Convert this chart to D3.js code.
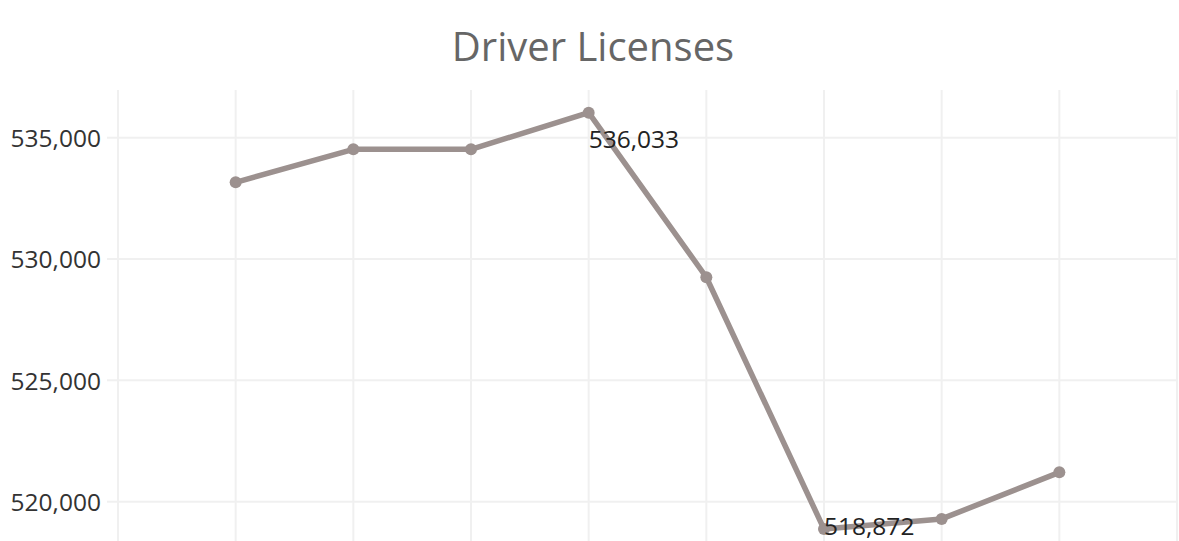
<!DOCTYPE html>
<html>
<head>
<meta charset="utf-8">
<script src="https://cdn.jsdelivr.net/npm/d3@7"></script>
<style>
  html, body { margin: 0; padding: 0; background: #fff; }
  svg { display: block; font-family: "Open Sans", sans-serif; }
</style>
</head>
<body>
<svg id="chart" width="1179" height="541"></svg>
<script>
(function() {
  var title, periods, licenses, yTicks, labelled;
  var svg, width, height, x, y, line, fmt;

  title = 'Driver Licenses';

  // 8 periods, no axis labels shown on the chart
  periods = [1, 2, 3, 4, 5, 6, 7, 8];

  licenses = [533160, 534520, 534520, 536033, 529250, 518872, 519290, 521210];

  yTicks = [520000, 525000, 530000, 535000];

  // only min and max get a mark label
  labelled = [536033, 518872];

  svg = d3.select('#chart');
  width = +svg.attr('width');
  height = +svg.attr('height');

  x = d3.scaleLinear().domain([0, periods.length + 1]).range([118, 1177]);
  y = d3.scaleLinear().domain([518380, 536966]).range([541, 90]);

  fmt = d3.format(',');

  svg.append('text')
    .attr('x', 593)
    .attr('y', 61)
    .attr('text-anchor', 'middle')
    .attr('fill', '#666')
    .style('font-size', '40px')
    .text(title);

  // vertical grid
  svg.append('g').selectAll('line')
    .data(d3.range(0, periods.length + 2))
    .enter().append('line')
    .attr('x1', function(d) { return x(d); })
    .attr('x2', function(d) { return x(d); })
    .attr('y1', 90)
    .attr('y2', height)
    .attr('stroke', '#f0f0f0')
    .attr('stroke-width', 2);

  // horizontal grid
  svg.append('g').selectAll('line')
    .data(yTicks)
    .enter().append('line')
    .attr('x1', 107)
    .attr('x2', 1177)
    .attr('y1', function(d) { return y(d); })
    .attr('y2', function(d) { return y(d); })
    .attr('stroke', '#f0f0f0')
    .attr('stroke-width', 2);

  // y axis labels
  var yAxis = d3.axisLeft(y).tickValues(yTicks).tickFormat(fmt).tickSize(0).tickPadding(0);
  svg.append('g')
    .attr('transform', 'translate(101,0)')
    .call(yAxis)
    .call(function(g) {
      g.select('.domain').remove();
      g.selectAll('text')
        .attr('fill', '#333')
        .attr('dy', '0.36em')
        .style('font-family', '"Open Sans", sans-serif')
        .style('font-size', '24.5px');
    });

  line = d3.line()
    .x(function(d, i) { return x(periods[i]); })
    .y(function(d) { return y(d); });

  svg.append('path')
    .datum(licenses)
    .attr('d', line)
    .attr('fill', 'none')
    .attr('stroke', '#9c918f')
    .attr('stroke-width', 5.5)
    .attr('stroke-linejoin', 'round');

  svg.append('g').selectAll('circle')
    .data(licenses)
    .enter().append('circle')
    .attr('cx', function(d, i) { return x(periods[i]); })
    .attr('cy', function(d) { return y(d); })
    .attr('r', 6)
    .attr('fill', '#9c918f');

  // mark labels sit below the point, pushed up to stay inside the view
  svg.append('g').selectAll('text')
    .data(licenses.filter(function(d) { return labelled.indexOf(d) >= 0; }))
    .enter().append('text')
    .attr('x', function(d) { return x(periods[licenses.indexOf(d)]); })
    .attr('y', function(d) { return Math.min(y(d) + 35, height - 6); })
    .attr('fill', '#222')
    .style('font-size', '24.5px')
    .text(fmt);
}).call(this);
</script>
</body>
</html>
